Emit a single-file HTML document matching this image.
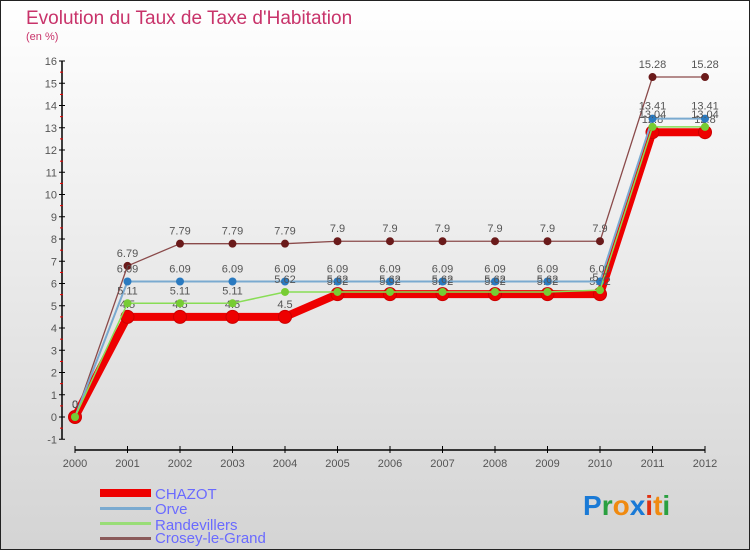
<!DOCTYPE html>
<html><head><meta charset="utf-8"><style>
body{margin:0;padding:0}
#wrap{width:750px;height:550px;position:relative;overflow:hidden}
svg text{font-family:"Liberation Sans",sans-serif}
</style></head><body>
<div id="wrap">
<svg id="chart" width="750" height="550" viewBox="0 0 750 550">
<defs><linearGradient id="bg" x1="0" y1="0" x2="0" y2="1"><stop offset="0" stop-color="#ffffff"/><stop offset="1" stop-color="#d4d4d4"/></linearGradient></defs>
<rect x="0.5" y="0.5" width="749" height="549" fill="url(#bg)" stroke="#222"/>
<text x="26" y="24" font-size="19" fill="#c8336a">Evolution du Taux de Taxe d'Habitation</text>
<text x="26" y="40" font-size="11" fill="#c8336a">(en %)</text>
<g id="axes"></g>
<g id="series"></g>
<g id="legend">
<rect x="100" y="489" width="51" height="8" fill="#ee0000"/>
<text x="155" y="499" font-size="15" fill="#6a6aff">CHAZOT</text>
<rect x="100" y="507" width="51" height="3" fill="#7aaad0"/>
<text x="155" y="514" font-size="15" fill="#6a6aff">Orve</text>
<rect x="100" y="522" width="51" height="3" fill="#99dd77"/>
<text x="155" y="530" font-size="15" fill="#6a6aff">Randevillers</text>
<rect x="100" y="537" width="51" height="3" fill="#8a5a5a"/>
<text x="155" y="543" font-size="15" fill="#6a6aff">Crosey-le-Grand</text>
</g>
<g font-size="28" font-weight="bold" font-family="Liberation Sans,sans-serif">
<text x="583" y="515"><tspan fill="#1a7ad6">P</tspan><tspan fill="#2aa040">r</tspan><tspan fill="#f08a10">o</tspan><tspan fill="#1a7ad6">x</tspan><tspan fill="#e03010">i</tspan><tspan fill="#f08a10">t</tspan><tspan fill="#2aa040">i</tspan></text>
</g>
</svg>
</div>
<script>
const years=[2000,2001,2002,2003,2004,2005,2006,2007,2008,2009,2010,2011,2012];
const chazot=[0,4.5,4.5,4.5,4.5,5.52,5.52,5.52,5.52,5.52,5.52,12.8,12.8];
const orve=[0,6.09,6.09,6.09,6.09,6.09,6.09,6.09,6.09,6.09,6.09,13.41,13.41];
const randevillers=[0,5.11,5.11,5.11,5.62,5.62,5.62,5.62,5.62,5.62,5.7,13.04,13.04];
const crosey=[0,6.79,7.79,7.79,7.79,7.9,7.9,7.9,7.9,7.9,7.9,15.28,15.28];
const yTicks=[-1,0,1,2,3,4,5,6,7,8,9,10,11,12,13,14,15,16];
const NS="http://www.w3.org/2000/svg";
const xS=i=>75+i*52.5;
const yS=v=>417-v*22.25;
function mk(tag,attrs,parent){const e=document.createElementNS(NS,tag);for(const k in attrs)e.setAttribute(k,attrs[k]);parent.appendChild(e);return e;}
const axes=document.getElementById('axes');
let yl=mk('line',{x1:62,y1:yS(16),x2:62,y2:yS(-1),stroke:'#000','stroke-width':1.5},axes);


yTicks.forEach(t=>{
  const y=yS(t);
  const tk=mk('line',{x1:59,y1:y,x2:65,y2:y,stroke:'#000'},axes);
  
  
  const tx=mk('text',{x:57,y:y+4,'font-size':11,'text-anchor':'end',fill:'#555'},axes);
  tx.textContent=t;
  
  
  if(t<16){const m=mk('line',{x1:60,y1:y-11.1,x2:63,y2:y-11.1,stroke:'#e00'},axes);
  
  }
});
let xl=mk('line',{x1:75,y1:450,x2:xS(12),y2:450,stroke:'#000','stroke-width':1.5},axes);


years.forEach((yr,i)=>{
  const x=xS(i);
  const tk=mk('line',{x1:x,y1:446,x2:x,y2:453,stroke:'#000'},axes);
  
  
  const tx=mk('text',{x:x,y:467,'font-size':11,'text-anchor':'middle',fill:'#555'},axes);
  tx.textContent=yr;
  
  
});
const sg=document.getElementById('series');
const defs=[
 {name:'chazot',d:chazot,c:'#ee0000',w:8,pc:'#ee0000',r:6.5},
 {name:'crosey-le-grand',d:crosey,c:'#8a4a4a',w:1.3,pc:'#6a1a1a',r:4},
 {name:'orve',d:orve,c:'#7aaad0',w:2,pc:'#2a7ac0',r:4},
 {name:'randevillers',d:randevillers,c:'#88dd55',w:1.5,pc:'#77cc33',r:4}
];
defs.forEach(s=>{
  const g=mk('g',{},sg);
  
  
  const pts=s.d.map((v,i)=>xS(i)+','+yS(v)).join(' ');
  const pl=mk('polyline',{points:pts,fill:'none',stroke:s.c,'stroke-width':s.w,'stroke-linejoin':'round'},g);
  
  
  s.d.forEach((v,i)=>{
    const c=mk('circle',{cx:xS(i),cy:yS(v),r:s.r,fill:s.pc,stroke:s.r>5?'#cc0000':'none'},g);
    
    
    const t=mk('text',{x:xS(i),y:yS(v)-9,'font-size':11,'text-anchor':'middle',fill:'#555'},g);
    t.textContent=String(v);
    
    
  });
});
</script>
</body></html>
